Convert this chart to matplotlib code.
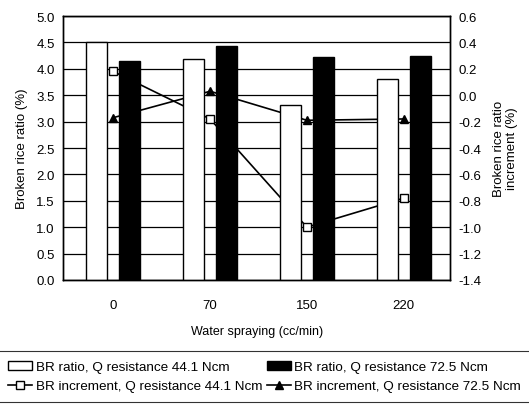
import numpy as np
import matplotlib
matplotlib.use('Agg')
import matplotlib.pyplot as plt

plt.rcParams['font.family'] = ['Liberation Sans', 'DejaVu Sans']

spraying = ['0', '70', '150', '220']
ratio_441 = [4.5, 4.18, 3.32, 3.8]
ratio_725 = [4.15, 4.43, 4.22, 4.24]
incr_441 = [0.18, -0.18, -1.0, -0.78]
incr_725 = [-0.17, 0.03, -0.19, -0.18]

x = np.arange(len(spraying))
w = 0.22
off = 0.17

fig = plt.figure(figsize=(5.29, 4.06), dpi=100)
ax = fig.add_axes([0.119, 0.308, 0.732, 0.65])
ax2 = ax.twinx()
ax.set_zorder(ax2.get_zorder() + 1)
ax.patch.set_visible(False)

# lines + grid on the lower axes, bars on top
ax2.set_ylim(-1.4, 0.6)
ax2.set_yticks(np.linspace(-1.4, 0.6, 11))
ax2.yaxis.set_major_formatter(matplotlib.ticker.FormatStrFormatter('%.1f'))
ax2.grid(axis='y', color='black', linewidth=0.9)
l1, = ax2.plot(x, incr_441, color='black', lw=1.2, marker='s', ms=6,
               mfc='white', mec='black', label='BR increment, Q resistance 44.1 Ncm')
l2, = ax2.plot(x, incr_725, color='black', lw=1.2, marker='^', ms=6,
               mfc='black', mec='black', label='BR increment, Q resistance 72.5 Ncm')

b1 = ax.bar(x - off, ratio_441, w, color='white', edgecolor='black', lw=1.0,
            label='BR ratio, Q resistance 44.1 Ncm')
b2 = ax.bar(x + off, ratio_725, w, color='black', edgecolor='black', lw=1.0,
            label='BR ratio, Q resistance 72.5 Ncm')
ax.set_ylim(0, 5.0)
ax.set_yticks(np.linspace(0, 5.0, 11))
ax.yaxis.set_major_formatter(matplotlib.ticker.FormatStrFormatter('%.1f'))
ax.set_xlim(-0.52, 3.48)
ax.set_xticks(x)
ax.set_xticklabels(spraying)

for a in (ax, ax2):
    a.tick_params(labelsize=9.5, length=0, pad=6)
    for s in a.spines.values():
        s.set_linewidth(1.0)
ax.tick_params(axis='x', pad=14)

ax.set_xlabel('Water spraying (cc/min)', fontsize=9, labelpad=10)
ax.set_ylabel('Broken rice ratio (%)', fontsize=9.5, labelpad=6)
ax2.set_ylabel('Broken rice ratio\nincrement (%)', fontsize=9.5, labelpad=8)

leg = fig.legend([b1, l1, b2, l2],
                 [b1.get_label(), l1.get_label(), b2.get_label(), l2.get_label()],
                 loc='upper left', bbox_to_anchor=(-0.004, 0.0, 1.008, 0.134),
                 mode='expand', ncol=2,
                 fontsize=9.7, frameon=True, fancybox=False, edgecolor='black',
                 handlelength=1.8, handletextpad=0.25, borderaxespad=0.0,
                 borderpad=0.75, labelspacing=0.5)
leg.get_frame().set_linewidth(0.8)

fig.savefig('out.png', dpi=100)
